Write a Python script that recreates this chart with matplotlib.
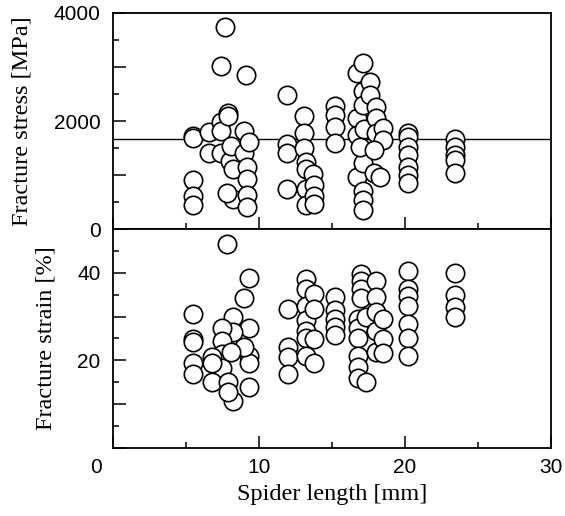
import matplotlib
matplotlib.use("Agg")
import matplotlib.pyplot as plt
import matplotlib.transforms as mtransforms
from matplotlib.ticker import MultipleLocator, FixedLocator

# spider length [mm] vs fracture stress [MPa]
stress_x = [5.5, 5.5, 5.5, 5.5, 5.5,
            6.6, 6.6,
            7.4, 7.4, 7.4, 7.4, 7.65, 7.9, 7.9, 8.0, 8.1, 8.2, 8.2, 7.8,
            9.0, 9.0, 9.14, 9.35, 9.2, 9.2, 9.2, 9.2,
            11.9, 11.95, 11.95, 11.95,
            13.1, 13.1, 13.1, 13.2, 13.2, 13.2, 13.2, 13.7, 13.8, 13.8, 13.8,
            15.2, 15.2, 15.2, 15.2,
            16.7, 16.7, 16.7, 16.7,
            17.1, 17.1, 17.1, 17.1, 17.1, 17.1, 17.1,
            17.6, 17.6, 16.9, 17.2,
            18.0, 18.0, 18.0, 18.5, 18.5, 17.9, 17.9, 18.3,
            20.2, 20.2, 20.2, 20.2, 20.2, 20.2, 20.2,
            23.4, 23.4, 23.4, 23.4, 23.4]
stress_y = [1720, 1690, 900, 610, 450,
            1796, 1407,
            1982, 1815, 1407, 3019, 3741, 2148, 2100, 1259, 1537, 1111, 555, 667,
            1815, 1407, 2852, 1611, 1148, 926, 630, 407,
            2482, 1574, 1407, 741,
            2093, 1778, 1500, 1241, 1111, 741, 444, 1019, 815, 611, 463,
            2278, 2111, 1889, 1593,
            2889, 2056, 1741, 963,
            3074, 2556, 2296, 1222, 704, 537, 352,
            2722, 2482, 1519, 1850,
            2259, 2056, 1778, 1870, 1648, 1463, 1037, 963,
            1778, 1700, 1519, 1370, 1148, 1000, 852,
            1667, 1519, 1370, 1278, 1037]
stress_mean = 1670

# spider length [mm] vs fracture strain [%]
strain_x = [5.5, 5.5, 5.5, 5.5, 5.5,
            7.8,
            9.35, 9.35, 9.35, 9.35, 9.35, 9.0, 9.0,
            8.2, 8.2, 8.2, 7.5, 7.5, 7.5, 7.5, 8.1,
            6.75, 6.75, 6.75, 7.85, 7.85,
            12.0, 12.0, 12.0, 12.0,
            13.2, 13.2, 13.2, 13.2, 13.2, 13.2, 13.2,
            13.8, 13.8, 13.8, 13.8,
            15.2, 15.2, 15.2, 15.2, 15.2,
            17.0, 17.0, 17.0, 17.0,
            16.8, 16.8, 16.8, 16.8, 16.8, 16.8, 17.3, 17.3,
            18.0, 18.0, 18.0, 18.0, 18.0, 18.5, 18.5, 18.5,
            20.2, 20.2, 20.2, 20.2, 20.2, 20.2, 20.2,
            23.4, 23.4, 23.4, 23.4]
strain_y = [30.7, 24.8, 24.3, 19.3, 16.8,
            46.6,
            38.9, 27.3, 21.1, 19.3, 13.9, 34.3, 23.0,
            30.0, 26.4, 10.7, 27.3, 24.5, 21.4, 18.2, 21.8,
            20.7, 19.3, 15.0, 15.0, 12.7,
            31.8, 23.0, 20.7, 16.8,
            38.6, 36.4, 32.5, 29.3, 26.8, 25.2, 21.1,
            35.2, 31.8, 24.8, 19.5,
            34.5, 31.4, 29.5, 27.7, 25.7,
            39.8, 38.2, 36.4, 34.3,
            29.5, 27.3, 25.0, 21.1, 18.4, 15.9, 15.0, 29.9,
            38.2, 34.5, 31.1, 26.8, 21.8, 29.5, 24.8, 21.6,
            40.5, 36.4, 34.8, 32.5, 28.4, 25.0, 21.1,
            40.0, 35.0, 32.3, 29.8]

stress_ticks = [0, 1000, 2000, 3000, 4000]
stress_labels = ["0", "", "2000", "", "4000"]
strain_ticks = [0, 10, 20, 30, 40, 50]
strain_labels = ["", "", "20", "", "40", ""]
length_ticks = [0, 10, 20, 30]

fig = plt.figure(figsize=(5.65, 5.16), dpi=100)
ax1 = fig.add_axes([0.2, 0.556, 0.775, 0.419])
ax2 = fig.add_axes([0.2, 0.132, 0.775, 0.424])

marker_kw = dict(s=175, facecolor="white", edgecolor="black",
                 linewidths=1.2, zorder=3)
ax1.scatter(stress_x, stress_y, **marker_kw)
ax1.axhline(stress_mean, color="black", linewidth=1.0, zorder=2)
ax2.scatter(strain_x, strain_y, **marker_kw)

for ax in (ax1, ax2):
    ax.set_xlim(0, 30)
    for sp in ax.spines.values():
        sp.set_linewidth(1.3)
    ax.set_xticks(length_ticks)
    ax.xaxis.set_minor_locator(MultipleLocator(5))
    ax.tick_params(which="both", direction="in", top=False, right=False,
                   width=1.1, labelsize=15)
    ax.tick_params(which="major", length=9)
    ax.tick_params(which="minor", length=4)
    ax.tick_params(axis="y", pad=9)

ax1.set_ylim(0, 4000)
ax1.yaxis.set_major_locator(FixedLocator(stress_ticks))
ax1.yaxis.set_minor_locator(MultipleLocator(500))
ax1.set_yticklabels(stress_labels)
ax1.tick_params(axis="x", labelbottom=False)

ax2.set_ylim(0, 50)
ax2.yaxis.set_major_locator(FixedLocator(strain_ticks))
ax2.yaxis.set_minor_locator(MultipleLocator(5))
ax2.set_yticklabels(strain_labels)
ax2.set_xticklabels([str(t) for t in length_ticks])
ax2.tick_params(axis="x", pad=7)

for lab in ax1.get_yticklabels() + ax2.get_yticklabels() + ax2.get_xticklabels():
    lab.set_family("Liberation Sans")

# the "0" on the x axis sits left of the corner in the original
zero_tick = ax2.xaxis.get_major_ticks()[0]
zero_tick.label1.set_transform(zero_tick.label1.get_transform() +
                               mtransforms.ScaledTranslation(-0.17, 0, fig.dpi_scale_trans))

serif = dict(family="Liberation Serif", fontsize=17.5)
ax1.set_ylabel("Fracture stress [MPa]", labelpad=15, **serif)
ax2.set_ylabel("Fracture strain [%]", labelpad=15, **serif)
ax2.set_xlabel("Spider length [mm]", labelpad=5, **serif)
fig.align_ylabels([ax1, ax2])

fig.savefig("out.png", dpi=100)
